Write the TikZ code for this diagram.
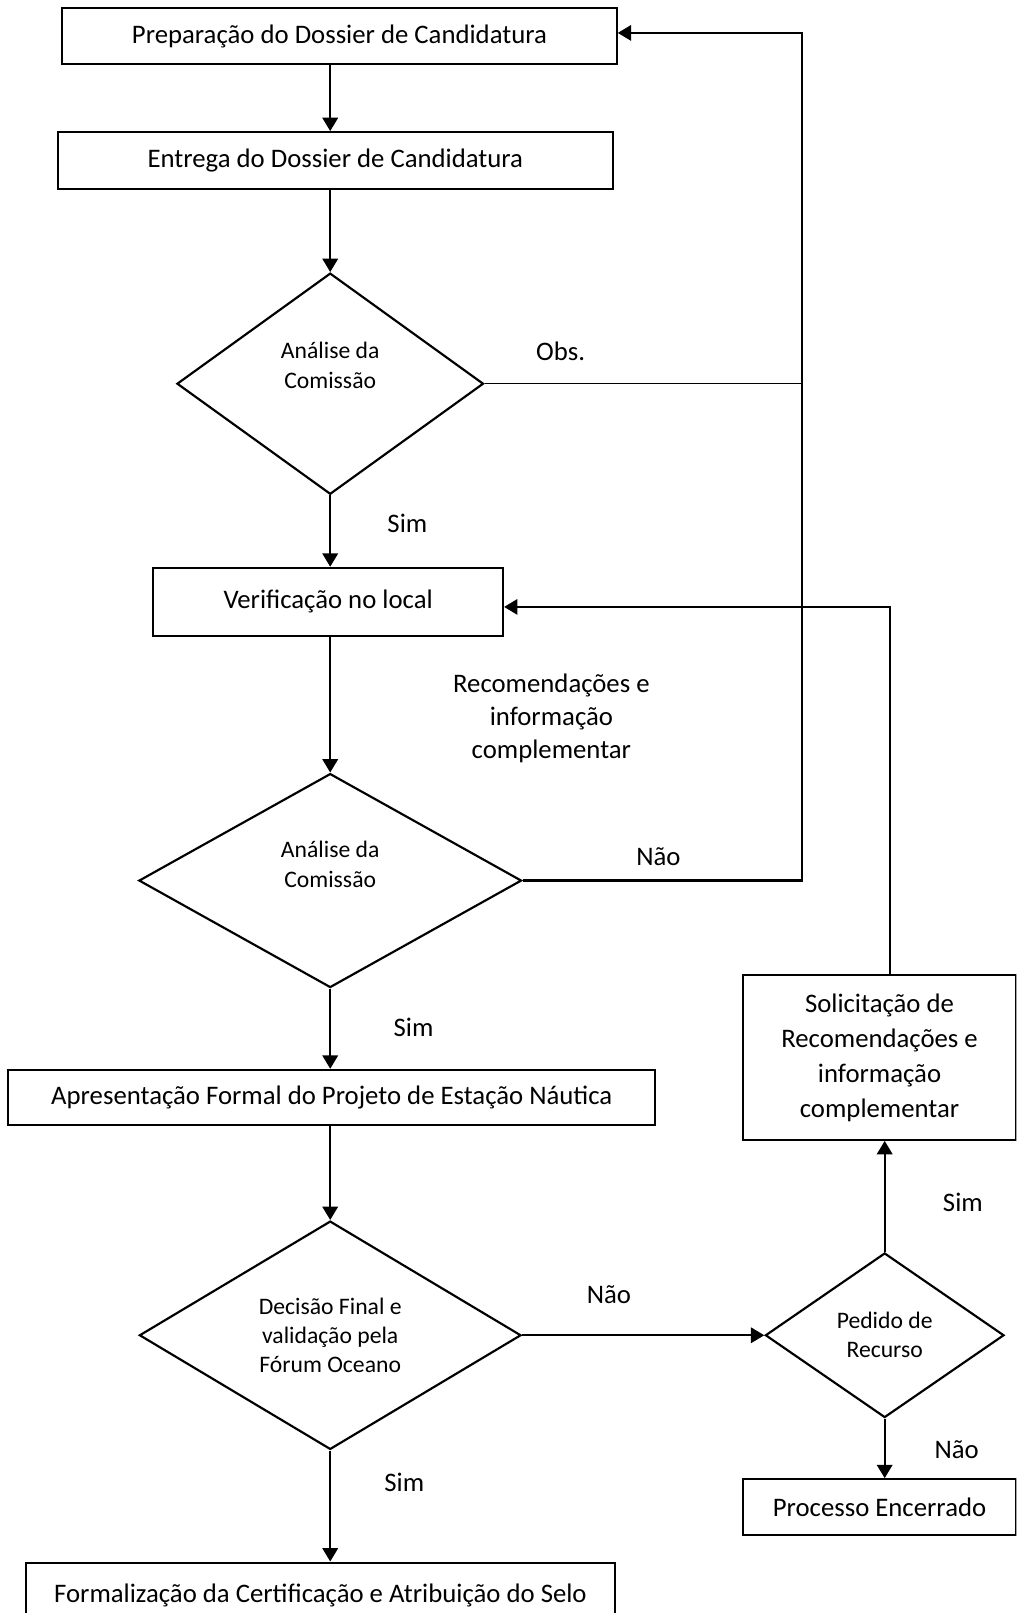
\documentclass[tikz,border=0pt]{standalone}
\usepackage{fontspec}
\setmainfont{Carlito}
\usetikzlibrary{arrows.meta,shapes.geometric}

\begin{document}
\begin{tikzpicture}[x=0.5pt,y=-0.5pt,line width=1.05pt,
  box/.style = {draw, rectangle, align=center, inner sep=2pt, font=\fontsize{13}{17}\selectfont},
  decision/.style = {draw, diamond, align=center, inner sep=0pt, font=\fontsize{11.5}{14}\selectfont},
  dtext/.style = {align=center, font=\fontsize{11.5}{14.5}\selectfont},
  lbl/.style = {align=center, font=\fontsize{13}{16}\selectfont},
  arr/.style = {-{Triangle[length=6.5pt,width=7.5pt]}}]
      \clip (0,0) rectangle (988,1568);

      % main column
      \node[box, minimum width=269.5pt, minimum height=27.5pt] (prep) at (330,35) {Preparação do Dossier de Candidatura};
      \node[box, minimum width=269.5pt, minimum height=27.5pt] (entrega) at (326,156) {Entrega do Dossier de Candidatura};
      \node[decision, minimum width=149pt, minimum height=107.5pt,
        label={[dtext, yshift=9pt]center:{Análise da\\Comissão}}] (ana1) at (321,373) {};
      \node[box, minimum width=170pt, minimum height=33pt] (verif) at (319,585) {Verificação no local};
      \node[decision, minimum width=186pt, minimum height=104pt,
        label={[dtext, yshift=8pt]center:{Análise da\\Comissão}}] (ana2) at (321,856) {};
      \node[box, minimum width=314.5pt, minimum height=27pt] (apres) at (322.5,1067) {Apresentação Formal do Projeto de Estação Náutica};
      \node[decision, minimum width=185.5pt, minimum height=111pt] (dec) at (321,1298) {Decisão Final e\\validação pela\\Fórum Oceano};
      \node[box, minimum width=286.5pt, minimum height=32pt] (form) at (311.5,1551) {Formalização da Certificação e Atribuição do Selo};

      % right column
      \node[decision, minimum width=116pt, minimum height=80pt] (recurso) at (860,1298) {Pedido de\\Recurso};
      \node[box, minimum width=133pt, minimum height=80pt] (solic) at (855,1028) {Solicitação de\\Recomendações e\\informação\\complementar};
      \node[box, minimum width=133pt, minimum height=27pt] (proc) at (855,1465) {Processo Encerrado};

      \coordinate (jA) at (780,32);
      \coordinate (jB) at (865,590);

      % labels
      \node[lbl] (obs) at (545,342) {Obs.};
      \node[lbl] (sim1) at (396,509) {Sim};
      \node[lbl] (recinfo) at (536,698) {Recomendações e\\informação\\complementar};
      \node[lbl] (nao1) at (640,833) {Não};
      \node[lbl] (sim2) at (402,999) {Sim};
      \node[lbl] (nao2) at (592,1259) {Não};
      \node[lbl] (sim3) at (393,1441) {Sim};
      \node[lbl] (sim4) at (936,1169) {Sim};
      \node[lbl] (nao3) at (930,1409) {Não};

      \draw[arr] (prep.south -| ana1) -- (entrega.north -| ana1);
      \draw[arr] (entrega.south -| ana1) -- (ana1.north);
      \draw[arr] (ana1.south) -- (verif.north -| ana1);
      \draw[arr] (verif.south -| ana1) -- (ana2.north);
      \draw[arr] (ana2.south) -- (apres.north -| ana2);
      \draw[arr] (apres.south -| dec) -- (dec.north);
      \draw[arr] (dec.south) -- (form.north -| dec);
      \draw[arr] (dec.east) -- (recurso.west);
      \draw[arr] (recurso.north) -- (solic.south -| recurso);
      \draw[arr] (recurso.south) -- (proc.north -| recurso);

      % feedback lines
      \draw[line width=0.5pt] (ana1.east) -- (ana1.east -| jA);
      \draw[arr] (ana2.east) -- (ana2.east -| jA) -- (jA) -- (jA -| prep.east);
      \draw[arr] (solic.north -| jB) -- (jB) -- (jB -| verif.east);
    \end{tikzpicture}
\end{document}
